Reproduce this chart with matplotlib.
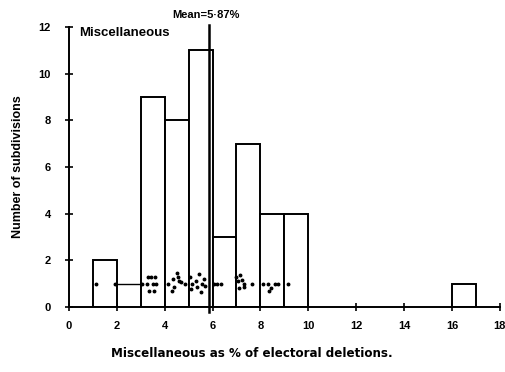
import matplotlib
matplotlib.use("Agg")
import matplotlib.pyplot as plt

# Histogram data
bin_left = [1, 3, 4, 5, 6, 7, 8, 9, 16]
counts = [2, 9, 8, 11, 3, 7, 4, 4, 1]
mean_value = 5.87

# Scattered dots (individual subdivisions) near y = 1
dot_x = [1.12, 1.92, 3.05, 3.3, 3.45, 3.6, 3.25, 3.5, 3.65, 3.35, 3.55,
         4.15, 4.35, 4.5, 4.6, 4.7, 4.4, 4.55, 4.3, 4.85,
         5.05, 5.15, 5.3, 5.45, 5.55, 5.65, 5.1, 5.35, 5.5, 5.7,
         6.05, 6.2, 6.35,
         7.0, 7.15, 7.3, 7.1, 7.3, 7.05, 7.25, 7.65,
         8.1, 8.3, 8.45, 8.6, 8.75, 8.35, 9.15]
dot_y = [1.0, 1.0, 1.0, 1.3, 1.3, 1.3, 1.0, 1.0, 1.0, 0.7, 0.7,
         1.0, 1.2, 1.45, 1.1, 1.05, 0.85, 1.3, 0.7, 1.0,
         1.3, 1.0, 1.1, 1.4, 1.0, 1.2, 0.75, 0.85, 0.65, 0.9,
         1.0, 1.0, 1.0,
         1.3, 1.35, 1.0, 0.8, 0.85, 1.1, 1.15, 1.0,
         1.0, 1.0, 0.8, 1.0, 1.0, 0.7, 1.0]
seg_x = [2.0, 3.0]
seg_y = [1.0, 1.0]

xticks = [0, 2, 4, 6, 8, 10, 12, 14, 16, 18]
yticks = [0, 2, 4, 6, 8, 10, 12]

plt.rcParams['font.family'] = ['Liberation Sans', 'DejaVu Sans']
plt.rcParams['font.weight'] = 'bold'

fig = plt.figure(figsize=(5.06, 3.72), dpi=100)
ax = fig.add_axes([0.136, 0.175, 0.852, 0.752])

ax.bar(bin_left, counts, width=1.0, align='edge', facecolor='white',
       edgecolor='black', linewidth=1.4, zorder=2)
ax.plot(dot_x, dot_y, linestyle='none', marker='o', markersize=1.8,
        color='black', zorder=3)
ax.plot(seg_x, seg_y, color='black', linewidth=1.0, zorder=3)

ax.plot([mean_value, mean_value], [-0.2, 12.1], color='black',
        linewidth=1.8, zorder=4, clip_on=False)
ax.text(mean_value - 0.15, 12.3, 'Mean=5·87%', ha='center', va='bottom',
        fontsize=8, fontweight='bold')
ax.text(0.45, 11.75, 'Miscellaneous', ha='left', va='center',
        fontsize=9.5, fontweight='bold')

ax.set_xlim(0, 18)
ax.set_ylim(0, 12)
ax.set_xticks(xticks)
ax.set_yticks(yticks)
ax.tick_params(axis='both', direction='inout', length=6, width=1.2,
               labelsize=8)
ax.tick_params(axis='y', pad=10)
ax.tick_params(axis='x', pad=7)
for lab in ax.get_xticklabels() + ax.get_yticklabels():
    lab.set_fontweight('bold')
ax.spines['top'].set_visible(False)
ax.spines['right'].set_visible(False)
ax.spines['left'].set_linewidth(1.4)
ax.spines['bottom'].set_linewidth(1.4)

ax.set_xlabel('Miscellaneous as % of electoral deletions.', fontsize=8.6,
              fontweight='bold', family=['DejaVu Sans'])
ax.xaxis.set_label_coords(0.425, -0.143)
ax.set_ylabel('Number of subdivisions', fontsize=9, fontweight='bold')
ax.yaxis.set_label_coords(-0.104, 0.5)

fig.savefig('out.png', dpi=100)
